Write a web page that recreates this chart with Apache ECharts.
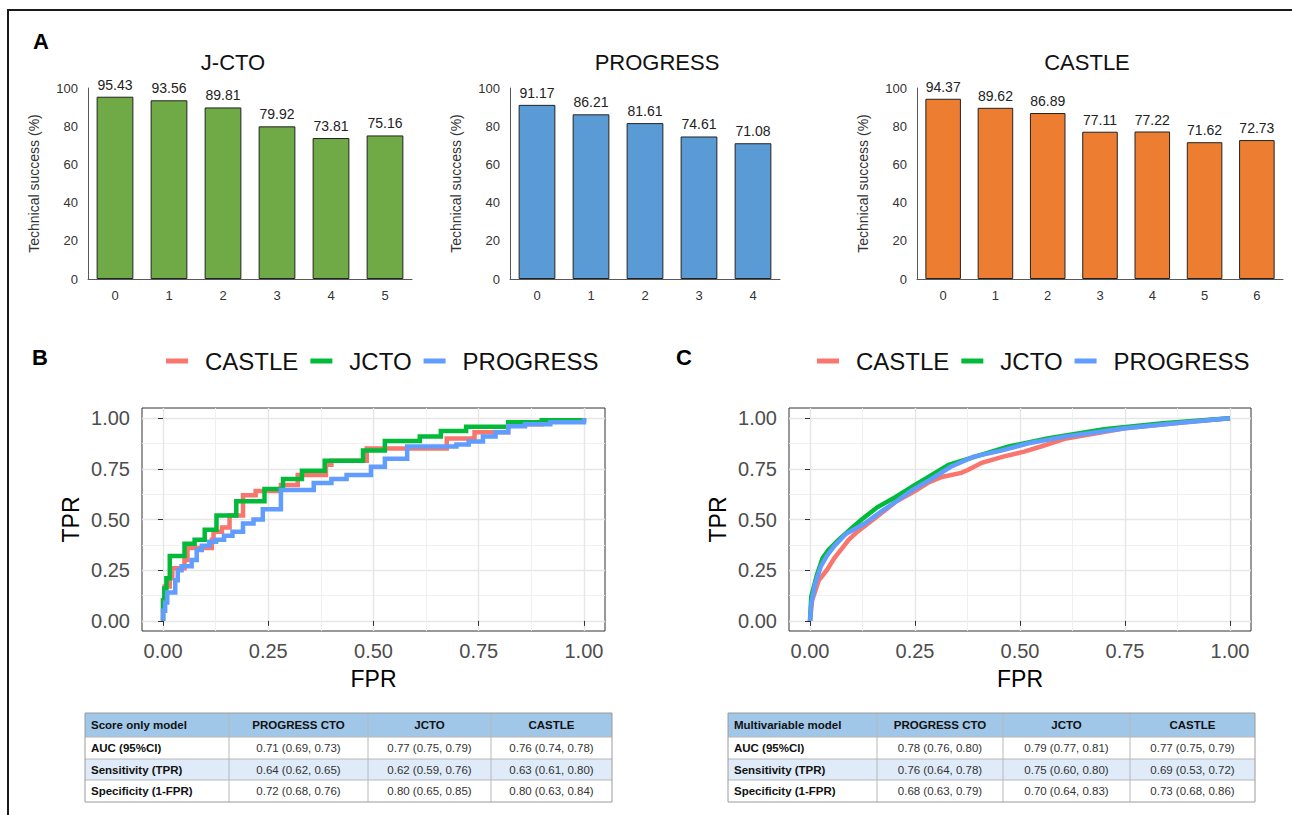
<!DOCTYPE html>
<html><head><meta charset="utf-8">
<script src="https://cdn.jsdelivr.net/npm/echarts@6/dist/echarts.min.js"></script>
<style>html,body{margin:0;padding:0;background:#fff}#c{width:1292px;height:815px}</style>
</head><body><div id="c"></div>
<script>
// ---------- Panel A data ----------
const jctoCats = ['0','1','2','3','4','5'];
const jctoVals = [95.43, 93.56, 89.81, 79.92, 73.81, 75.16];
const progressCats = ['0','1','2','3','4'];
const progressVals = [91.17, 86.21, 81.61, 74.61, 71.08];
const castleCats = ['0','1','2','3','4','5','6'];
const castleVals = [94.37, 89.62, 86.89, 77.11, 77.22, 71.62, 72.73];
const barYTicks = [0, 20, 40, 60, 80, 100];

// ---------- Panel B (score only model) ROC, [FPR, TPR] ----------
const rocBCastle = [[0,0],[0,0.10],[0.004,0.17],[0.016,0.21],[0.022,0.26],[0.051,0.30],[0.058,0.36],[0.116,0.40],[0.12,0.44],[0.14,0.46],[0.158,0.52],[0.19,0.62],[0.22,0.64],[0.28,0.67],[0.32,0.72],[0.387,0.77],[0.40,0.79],[0.484,0.85],[0.674,0.90],[0.74,0.93],[0.82,0.97],[0.9,0.99],[1,1]];
const rocBJcto = [[0,0],[0,0.10],[0.003,0.16],[0.008,0.21],[0.016,0.32],[0.051,0.38],[0.075,0.40],[0.099,0.45],[0.127,0.52],[0.174,0.59],[0.241,0.65],[0.285,0.70],[0.33,0.74],[0.384,0.79],[0.475,0.84],[0.527,0.887],[0.61,0.91],[0.66,0.936],[0.72,0.957],[0.82,0.98],[0.9,0.99],[1,1]];
const rocBProgress = [[0,0],[0,0.05],[0.005,0.09],[0.01,0.14],[0.029,0.20],[0.035,0.25],[0.044,0.27],[0.068,0.30],[0.08,0.35],[0.092,0.37],[0.11,0.39],[0.126,0.40],[0.145,0.42],[0.165,0.44],[0.19,0.48],[0.215,0.50],[0.237,0.55],[0.28,0.645],[0.358,0.68],[0.40,0.70],[0.436,0.72],[0.494,0.76],[0.527,0.80],[0.58,0.86],[0.697,0.87],[0.726,0.885],[0.76,0.91],[0.79,0.93],[0.82,0.96],[0.86,0.97],[0.92,0.98],[1,1]];

// ---------- Panel C (multivariable model) ROC, [FPR, TPR] ----------
const rocCCastle = [[0,0],[0.005,0.10],[0.021,0.20],[0.04,0.25],[0.058,0.31],[0.081,0.37],[0.092,0.40],[0.113,0.44],[0.163,0.52],[0.206,0.59],[0.25,0.64],[0.28,0.68],[0.314,0.71],[0.36,0.73],[0.377,0.745],[0.409,0.78],[0.46,0.81],[0.51,0.835],[0.55,0.86],[0.61,0.90],[0.75,0.95],[0.89,0.98],[1,1]];
const rocCJcto = [[0,0],[0.003,0.12],[0.017,0.23],[0.03,0.31],[0.044,0.35],[0.068,0.40],[0.095,0.45],[0.123,0.50],[0.16,0.56],[0.203,0.61],[0.25,0.67],[0.29,0.72],[0.33,0.77],[0.409,0.82],[0.473,0.86],[0.565,0.90],[0.70,0.945],[0.84,0.975],[1,1]];
const rocCProgress = [[0,0],[0.003,0.086],[0.012,0.18],[0.026,0.27],[0.04,0.32],[0.058,0.37],[0.086,0.43],[0.13,0.48],[0.17,0.54],[0.206,0.59],[0.243,0.645],[0.289,0.70],[0.335,0.76],[0.39,0.81],[0.455,0.84],[0.52,0.876],[0.61,0.91],[0.75,0.95],[0.87,0.975],[1,1]];

const rocMajor = [0, 0.25, 0.5, 0.75, 1];
const rocMinor = [0.125, 0.375, 0.625, 0.875];
const rocNames = ['CASTLE', 'JCTO', 'PROGRESS'];

// ---------- Tables ----------
const tableBHeader = ['Score only model', 'PROGRESS CTO', 'JCTO', 'CASTLE'];
const tableBRows = [
  ['AUC (95%CI)', '0.71 (0.69, 0.73)', '0.77 (0.75, 0.79)', '0.76 (0.74, 0.78)'],
  ['Sensitivity (TPR)', '0.64 (0.62, 0.65)', '0.62 (0.59, 0.76)', '0.63 (0.61, 0.80)'],
  ['Specificity (1-FPR)', '0.72 (0.68, 0.76)', '0.80 (0.65, 0.85)', '0.80 (0.63, 0.84)']
];
const tableCHeader = ['Multivariable model', 'PROGRESS CTO', 'JCTO', 'CASTLE'];
const tableCRows = [
  ['AUC (95%CI)', '0.78 (0.76, 0.80)', '0.79 (0.77, 0.81)', '0.77 (0.75, 0.79)'],
  ['Sensitivity (TPR)', '0.76 (0.64, 0.78)', '0.75 (0.60, 0.80)', '0.69 (0.53, 0.72)'],
  ['Specificity (1-FPR)', '0.68 (0.63, 0.79)', '0.70 (0.64, 0.83)', '0.73 (0.68, 0.86)']
];

// ---------- styling ----------
const FONT = '"Liberation Sans", Arial, Helvetica, sans-serif';
const rocColors = {CASTLE: '#F8766D', JCTO: '#00BA38', PROGRESS: '#619CFF'};

function barX(grid, cats) {
  return {type: 'category', gridIndex: grid, data: cats,
    axisLine: {show: true, lineStyle: {color: '#595959', width: 1}},
    axisTick: {show: false},
    axisLabel: {color: '#333', fontSize: 13, margin: 10, fontFamily: FONT}};
}
function barY(grid) {
  return {type: 'value', gridIndex: grid, min: 0, max: 100, interval: 20,
    name: 'Technical success (%)', nameLocation: 'middle', nameGap: 47,
    nameTextStyle: {fontSize: 14, color: '#333', fontFamily: FONT},
    axisLine: {show: true, lineStyle: {color: '#595959', width: 1}},
    axisTick: {show: false}, splitLine: {show: false},
    axisLabel: {color: '#333', fontSize: 13, margin: 10, fontFamily: FONT}};
}
function barSeries(grid, vals, color) {
  return {type: 'bar', xAxisIndex: grid, yAxisIndex: grid, data: vals, barCategoryGap: '32%',
    itemStyle: {color: color, borderColor: '#222', borderWidth: 1},
    label: {show: true, position: 'top', distance: 5, fontSize: 14, color: '#222', fontFamily: FONT,
      formatter: p => p.value.toFixed(2)}};
}
function rocMainX(grid) {
  return {type: 'value', gridIndex: grid, min: -0.05, max: 1.05,
    name: 'FPR', nameLocation: 'middle', nameGap: 36,
    nameTextStyle: {fontSize: 23, color: '#000', fontFamily: FONT},
    axisLine: {show: false},
    axisTick: {show: true, length: 5, customValues: rocMajor, lineStyle: {color: '#333'}},
    axisLabel: {customValues: rocMajor, formatter: v => v.toFixed(2), fontSize: 20, color: '#4D4D4D', margin: 10, fontFamily: FONT},
    splitLine: {show: true, lineStyle: {color: '#E6E6E6', width: 1.4}}};
}
function rocMainY(grid) {
  return {type: 'value', gridIndex: grid, min: -0.05, max: 1.05,
    name: 'TPR', nameLocation: 'middle', nameGap: 60,
    nameTextStyle: {fontSize: 23, color: '#000', fontFamily: FONT},
    axisLine: {show: false},
    axisTick: {show: true, length: 5, customValues: rocMajor, lineStyle: {color: '#333'}},
    axisLabel: {customValues: rocMajor, formatter: v => v.toFixed(2), fontSize: 20, color: '#4D4D4D', margin: 12, fontFamily: FONT},
    splitLine: {show: true, lineStyle: {color: '#E6E6E6', width: 1.4}}};
}
function rocMinorAxis(type, grid) {
  return {type: 'value', gridIndex: grid, min: -0.05, max: 1.05,
    axisLine: {show: false},
    axisTick: {show: false, customValues: rocMinor},
    axisLabel: {show: false, customValues: rocMinor},
    splitLine: {show: true, lineStyle: {color: '#EEEEEE', width: 0.9}}};
}
function rocSeries(name, data, xi, yi, step) {
  return {type: 'line', name: name, xAxisIndex: xi, yAxisIndex: yi, data: data,
    step: step ? 'end' : false, showSymbol: false, symbol: 'none', silent: true,
    color: rocColors[name],
    lineStyle: {width: 4.5, color: rocColors[name], cap: 'butt', join: 'miter'}};
}

// ---------- table graphics ----------
function buildTable(x0, y0, colEdges, rowHeights, header, rows) {
  const els = [];
  const W = colEdges[colEdges.length - 1] - colEdges[0];
  const H = rowHeights.reduce((a, b) => a + b, 0);
  let y = y0;
  const rowTops = [];
  for (let r = 0; r < rowHeights.length; r++) { rowTops.push(y); y += rowHeights[r]; }
  els.push({type: 'rect', shape: {x: colEdges[0], y: rowTops[0], width: W, height: rowHeights[0]},
    style: {fill: '#A0C6E8'}, silent: true});
  els.push({type: 'rect', shape: {x: colEdges[0], y: rowTops[2], width: W, height: rowHeights[2]},
    style: {fill: '#DFEBF8'}, silent: true});
  for (let r = 1; r < rowHeights.length; r++) {
    els.push({type: 'line', shape: {x1: colEdges[0], y1: rowTops[r], x2: colEdges[colEdges.length - 1], y2: rowTops[r]},
      style: {stroke: '#B8B8B8', lineWidth: 1}, silent: true});
  }
  for (let c = 1; c < colEdges.length - 1; c++) {
    els.push({type: 'line', shape: {x1: colEdges[c], y1: y0, x2: colEdges[c], y2: y0 + H},
      style: {stroke: '#B8B8B8', lineWidth: 1}, silent: true});
  }
  els.push({type: 'rect', shape: {x: colEdges[0], y: y0, width: W, height: H},
    style: {fill: 'none', stroke: '#9A9A9A', lineWidth: 1}, silent: true});
  const allRows = [header].concat(rows);
  allRows.forEach((row, r) => {
    row.forEach((txt, c) => {
      const cy = rowTops[r] + rowHeights[r] / 2;
      const bold = (r === 0 || c === 0);
      const cx = c === 0 ? colEdges[0] + 6 : (colEdges[c] + colEdges[c + 1]) / 2;
      els.push({type: 'text', silent: true, style: {
        text: txt, x: cx, y: cy, align: c === 0 ? 'left' : 'center', verticalAlign: 'middle',
        fontSize: 11.5, fontWeight: bold ? 'bold' : 'normal', fill: bold ? '#111' : '#333', fontFamily: FONT}});
    });
  });
  return els;
}

const graphics = [
  {type: 'polyline', silent: true, shape: {points: [[8, 815], [8, 10], [1292, 10]]}, style: {stroke: '#1a1a1a', lineWidth: 2, fill: 'none'}},
  {type: 'text', silent: true, style: {text: 'A', x: 41, y: 41, align: 'center', verticalAlign: 'middle', fontSize: 22, fontWeight: 'bold', fill: '#000', fontFamily: FONT}},
  {type: 'text', silent: true, style: {text: 'B', x: 40, y: 357, align: 'center', verticalAlign: 'middle', fontSize: 22, fontWeight: 'bold', fill: '#000', fontFamily: FONT}},
  {type: 'text', silent: true, style: {text: 'C', x: 684, y: 357, align: 'center', verticalAlign: 'middle', fontSize: 22, fontWeight: 'bold', fill: '#000', fontFamily: FONT}},
  {type: 'text', silent: true, style: {text: 'J-CTO', x: 233, y: 62, align: 'center', verticalAlign: 'middle', fontSize: 22, fill: '#111', fontFamily: FONT}},
  {type: 'text', silent: true, style: {text: 'PROGRESS', x: 657, y: 62, align: 'center', verticalAlign: 'middle', fontSize: 22, fill: '#111', fontFamily: FONT}},
  {type: 'text', silent: true, style: {text: 'CASTLE', x: 1087, y: 62, align: 'center', verticalAlign: 'middle', fontSize: 22, fill: '#111', fontFamily: FONT}}
].concat(
  buildTable(85, 713, [85, 229, 368, 491, 612], [24, 22, 21, 22], tableBHeader, tableBRows),
  buildTable(728, 713, [728, 877, 1003, 1130, 1255], [24, 22, 21, 22], tableCHeader, tableCRows)
);

function legendAt(left) {
  return {left: left, top: 344, orient: 'horizontal', data: rocNames, selectedMode: false,
    icon: 'rect', itemWidth: 22, itemHeight: 5, itemGap: 12,
    textStyle: {fontSize: 24, color: '#111', fontFamily: FONT, padding: [0, 0, 0, 12]}};
}

const option = {
  animation: false,
  backgroundColor: '#fff',
  textStyle: {fontFamily: FONT},
  grid: [
    {left: 88, top: 88, width: 324, height: 191},
    {left: 510, top: 88, width: 270, height: 191},
    {left: 917, top: 88, width: 366, height: 191},
    {left: 142, top: 408, width: 463, height: 223, show: true, borderColor: '#333', borderWidth: 1, backgroundColor: 'transparent'},
    {left: 789, top: 408, width: 462, height: 223, show: true, borderColor: '#333', borderWidth: 1, backgroundColor: 'transparent'}
  ],
  xAxis: [barX(0, jctoCats), barX(1, progressCats), barX(2, castleCats),
          rocMainX(3), rocMinorAxis('x', 3), rocMainX(4), rocMinorAxis('x', 4)],
  yAxis: [barY(0), barY(1), barY(2),
          rocMainY(3), rocMinorAxis('y', 3), rocMainY(4), rocMinorAxis('y', 4)],
  legend: [legendAt(161), legendAt(812)],
  series: [
    barSeries(0, jctoVals, '#6FAA46'),
    barSeries(1, progressVals, '#5B9BD5'),
    barSeries(2, castleVals, '#ED7D31'),
    rocSeries('CASTLE', rocBCastle, 3, 3, true),
    rocSeries('JCTO', rocBJcto, 3, 3, true),
    rocSeries('PROGRESS', rocBProgress, 3, 3, true),
    rocSeries('CASTLE', rocCCastle, 5, 5, false),
    rocSeries('JCTO', rocCJcto, 5, 5, false),
    rocSeries('PROGRESS', rocCProgress, 5, 5, false)
  ],
  graphic: graphics
};
const chart = echarts.init(document.getElementById('c'), null, {renderer: 'svg'});
chart.setOption(option);
</script></body></html>
